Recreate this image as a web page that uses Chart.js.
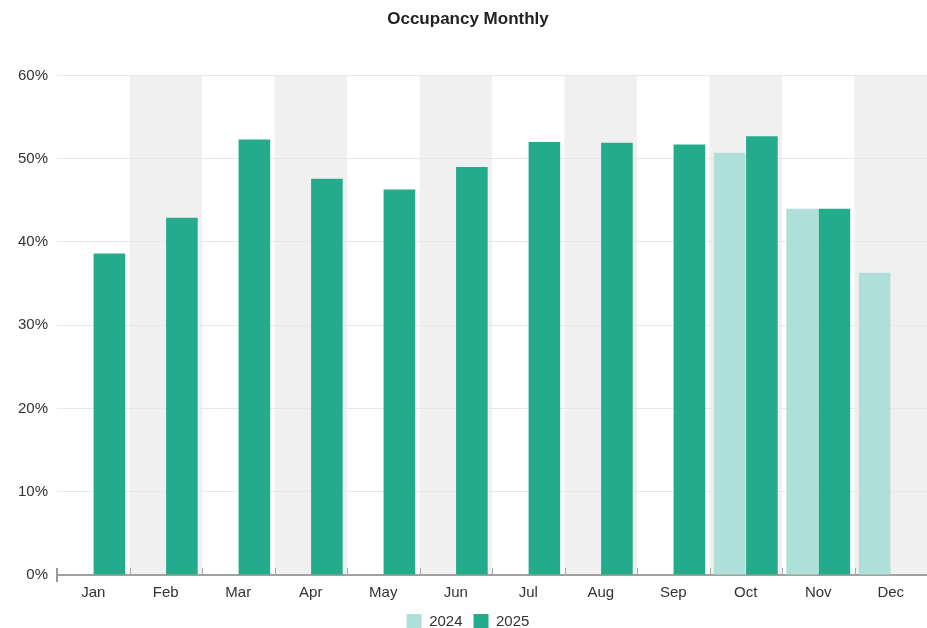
<!DOCTYPE html>
<html>
<head>
<meta charset="utf-8">
<script src="https://cdn.jsdelivr.net/npm/chart.js@4.4.1/dist/chart.umd.min.js"></script>
<style>
  html, body { margin: 0; padding: 0; background: #fff; }
  #wrap { width: 927px; height: 628px; position: relative; }
</style>
</head>
<body>
<div id="wrap"><canvas id="mycanvas"></canvas></div>
<script>
var months = ['Jan', 'Feb', 'Mar', 'Apr', 'May', 'Jun', 'Jul', 'Aug', 'Sep', 'Oct', 'Nov', 'Dec'];
var occ2024 = [null, null, null, null, null, null, null, null, null, 50.7, 44.0, 36.3];
var occ2025 = [38.6, 42.9, 52.3, 47.6, 46.3, 49.0, 52.0, 51.9, 51.7, 52.7, 44.0, null];

var FONT = 'Liberation Sans, Arial, sans-serif';

// grey band behind every second month, and small inner ticks on the x axis
var bandPlugin = {
	id: 'bands',
	beforeDraw: function(chart) {
		var ctx = chart.ctx, x = chart.scales.x, area = chart.chartArea;
		var w = x.getPixelForValue(1) - x.getPixelForValue(0);
		ctx.save();
		ctx.fillStyle = '#f0f0f0';
		for (var i = 1; i < months.length; i += 2) {
			var c = x.getPixelForValue(i);
			ctx.fillRect(c - w / 2, area.top, w, area.bottom - area.top);
		}
		ctx.restore();
	},
	afterDraw: function(chart) {
		var ctx = chart.ctx, x = chart.scales.x, area = chart.chartArea;
		var w = x.getPixelForValue(1) - x.getPixelForValue(0);
		ctx.save();
		ctx.strokeStyle = '#a8a8a8';
		ctx.lineWidth = 1;
		for (var i = 1; i < months.length; i++) {
			var px = Math.round(x.getPixelForValue(i) - w / 2) + 0.5;
			ctx.beginPath();
			ctx.moveTo(px, area.bottom - 7);
			ctx.lineTo(px, area.bottom);
			ctx.stroke();
		}
		ctx.strokeStyle = '#999';
		ctx.lineWidth = 2;
		ctx.beginPath();
		ctx.moveTo(area.left, area.bottom - 7);
		ctx.lineTo(area.left, area.bottom + 7);
		ctx.stroke();
		ctx.restore();
	}
};

var ctx = document.getElementById('mycanvas');
var myChart = new Chart(ctx, {
	type: 'bar',
	data: {
		labels: months,
		datasets: [{
			label: '2024',
			data: occ2024,
			backgroundColor: '#aedfd8',
			borderWidth: 0
		}, {
			label: '2025',
			data: occ2025,
			backgroundColor: '#24ab8c',
			borderWidth: 0
		}]
	},
	options: {
		responsive: true,
		maintainAspectRatio: false,
		animation: false,
		layout: { padding: { left: 9, right: 0, top: 0, bottom: -11 } },
		datasets: { bar: { categoryPercentage: 0.89, barPercentage: 0.98 } },
		plugins: {
			title: {
				display: true,
				text: 'Occupancy Monthly',
				color: '#222',
				font: { family: FONT, size: 17, weight: 'bold' },
				padding: { top: 9, bottom: 46 }
			},
			legend: {
				position: 'bottom',
				labels: {
					color: '#333',
					font: { family: FONT, size: 15 },
					boxWidth: 15,
					boxHeight: 15,
					padding: 11
				}
			},
			tooltip: { enabled: false }
		},
		scales: {
			x: {
				grid: { display: false },
				border: { display: true, color: '#a0a0a0', width: 2 },
				ticks: {
					color: '#333',
					padding: 1,
					font: { family: FONT, size: 15 }
				}
			},
			y: {
				min: 0,
				max: 60,
				grid: { color: '#e8e8e8', drawTicks: false },
				border: { display: false },
				ticks: {
					stepSize: 10,
					padding: 9,
					color: '#333',
					font: { family: FONT, size: 15 },
					callback: function(v) { return v + '%'; }
				}
			}
		}
	},
	plugins: [bandPlugin]
});
</script>
</body>
</html>
